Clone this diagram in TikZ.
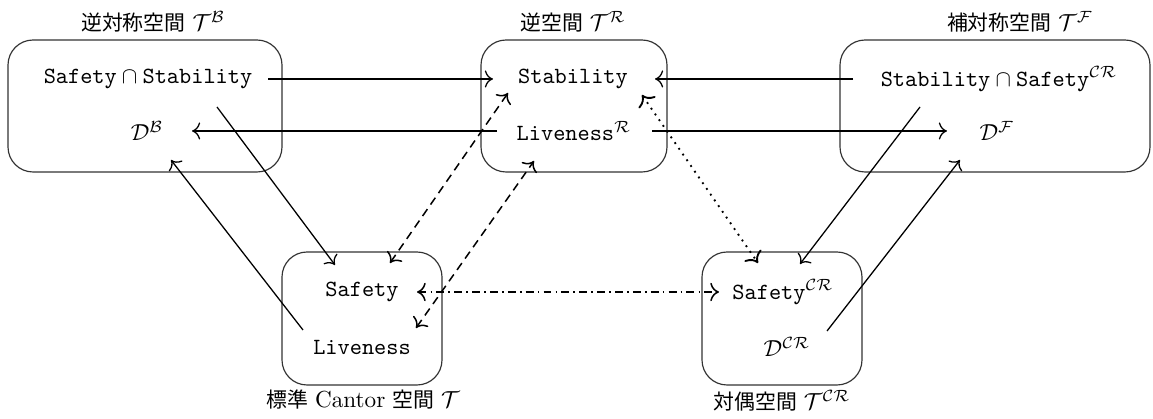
\documentclass[tikz,border=0pt]{standalone}
\usepackage{fontspec}
\newfontfamily\cjk{Noto Sans CJK JP}
\newcommand\cj[1]{{\fontsize{9pt}{10.5pt}\selectfont\cjk #1}}
\newcommand\mt[1]{{\fontsize{10pt}{12pt}\selectfont$#1$}}
\usetikzlibrary{calc,arrows.meta}
\begin{document}
\begin{tikzpicture}[x=0.431pt,y=-0.431pt,
  >={To[scale=1.25]},
  box/.style={draw=black!80, rounded corners=10.8pt, line width=0.5pt, inner sep=0pt},
  txt/.style={inner sep=0pt},
  lab/.style={inner sep=0pt, font=\fontsize{10pt}{12pt}\selectfont},
  arr/.style={->, line width=0.55pt},
  darr/.style={<->, line width=0.65pt},
  dsh/.style={dash pattern=on 3.6pt off 2.4pt},
  dts/.style={line width=0.8pt, dash pattern=on 0.8pt off 2.2pt},
  dds/.style={dash pattern=on 3.4pt off 1.8pt on 0.7pt off 1.8pt}]
\useasboundingbox (0,0) rectangle (1153,419);
% boxes
\node[box, minimum width=274*0.431pt, minimum height=132*0.431pt] (bB) at (145,106) {};
\node[box, minimum width=186*0.431pt, minimum height=132*0.431pt] (bR) at (574,106) {};
\node[box, minimum width=310*0.431pt, minimum height=132*0.431pt] (bF) at (995,106) {};
\node[box, minimum width=160*0.431pt, minimum height=133*0.431pt] (bT) at (362,318.5) {};
\node[box, minimum width=160*0.431pt, minimum height=133*0.431pt] (bC) at (782,318.5) {};
% labels
\node[lab] (lB) at (153,22) {\cj{逆対称空間}\hspace{3pt}\mt{\mathcal{T}^{\mathcal{B}}}};
\node[lab] (lR) at (573,22) {\cj{逆空間}\hspace{3pt}\mt{\mathcal{T}^{\mathcal{R}}}};
\node[lab] (lF) at (1020,22) {\cj{補対称空間}\hspace{3pt}\mt{\mathcal{T}^{\mathcal{F}}}};
\node[lab] (lT) at (363,400) {\cj{標準}\hspace{3pt}Cantor\hspace{3pt}\cj{空間}\hspace{3pt}\mt{\mathcal{T}}};
\node[lab] (lC) at (782,401) {\cj{対偶空間}\hspace{3pt}\mt{\mathcal{T}^{\mathcal{CR}}}};
% texts
\node[txt] (SS) at (148,79) {$\mathtt{Safety}\cap\mathtt{Stability}$};
\node[txt] (DB) at (147,131) {$\mathcal{D}^{\mathcal{B}}$};
\node[txt] (Stab) at (573,79) {\texttt{Stability}};
\node[txt] (LivR) at (574,131) {\texttt{Liveness}$^{\mathcal{R}}$};
\node[txt] (SSC) at (999,79) {$\mathtt{Stability}\cap\mathtt{Safety}^{\mathcal{CR}}$};
\node[txt] (DF) at (997,131) {$\mathcal{D}^{\mathcal{F}}$};
\node[txt] (Saf) at (362,292) {\texttt{Safety}};
\node[txt] (Liv) at (362,347) {\texttt{Liveness}};
\node[txt] (SafCR) at (783,292) {\texttt{Safety}$^{\mathcal{CR}}$};
\node[txt] (DCR) at (787,347) {$\mathcal{D}^{\mathcal{CR}}$};
% solid arrows
\draw[arr] ($(SS)+(120,0)$) -- ($(Stab)+(-80,0)$);
\draw[arr] ($(LivR)+(-77,0)$) -- ($(DB)+(45,0)$);
\draw[arr] ($(SSC)+(-146,0)$) -- ($(Stab)+(82,0)$);
\draw[arr] ($(LivR)+(78,0)$) -- ($(DF)+(-50,0)$);
\draw[arr] ($(SS)+(69,28)$) -- ($(Saf)+(-27,-27)$);
\draw[arr] ($(Liv)+(-59,-17)$) -- ($(DB)+(24,29)$);
\draw[arr] ($(SSC)+(-79,28)$) -- ($(SafCR)+(17,-28)$);
\draw[arr] ($(DCR)+(40,-16)$) -- ($(DF)+(-37,29)$);
% dashed / dotted / dash-dotted
\draw[darr, dsh] ($(Saf)+(28,-29)$) -- ($(Stab)+(-65,14)$);
\draw[darr, dsh] ($(Liv)+(54,-19)$) -- ($(LivR)+(-40,30)$);
\draw[darr, dts] ($(Stab)+(69,16)$) -- ($(SafCR)+(-25,-29)$);
\draw[darr, dds] ($(Saf)+(55,0)$) -- ($(SafCR)+(-64,0)$);
\end{tikzpicture}
\end{document}
